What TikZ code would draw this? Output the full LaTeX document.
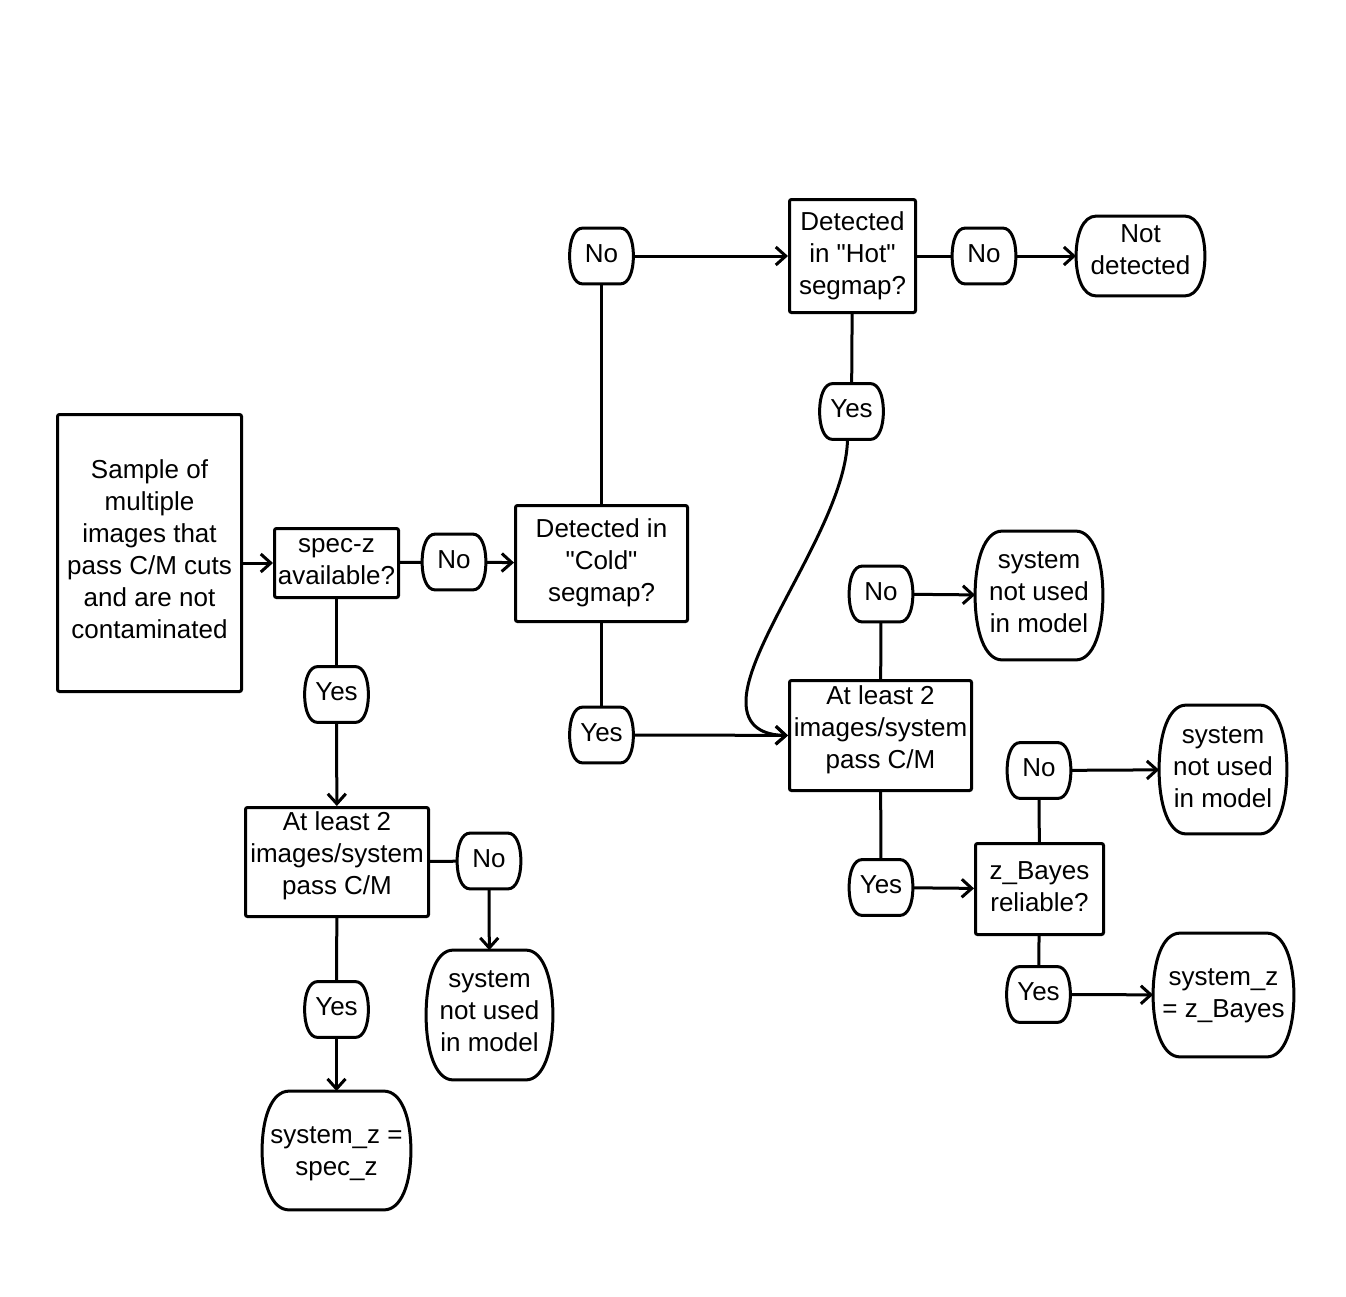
\documentclass[tikz,border=0pt]{standalone}
\usepackage{fontspec}
\setmainfont{Liberation Sans}[Ligatures=TeXOff]
\usetikzlibrary{arrows.meta,calc}
\newcommand{\tx}[2]{\raisebox{#1}[\height][\depth]{\begin{tabular}{@{}c@{}}#2\end{tabular}}}
\begin{document}
\begin{tikzpicture}[x=0.5pt,y=-0.5pt,
  base/.style={font=\fontsize{13pt}{16pt}\selectfont, align=center, inner sep=0pt},
  box/.style={base, draw, line width=1.5pt, rounded corners=1pt},
  term/.style={base},
  pill/.style={term, minimum width=31.5pt, minimum height=27.5pt},
  ln/.style={line width=1.5pt},
  arr/.style={line width=1.5pt, -{Straight Barb[length=5pt,width=9pt]}},
  outline/.style={line width=1.5pt}]
\useasboundingbox (0,0) rectangle (1346,1297);
% nodes
\node[box, minimum width=92pt, minimum height=138.5pt] (sample) at (149.5,553) {\tx{0.5pt}{Sample of\\multiple\\images that\\pass C/M cuts\\and are not\\contaminated}};
\node[box, minimum width=62pt, minimum height=34.5pt] (specz) at (336.5,563) {\tx{0.5pt}{spec-z\\available?}};
\node[pill] (no1) at (454,562) {\tx{0pt}{No}};
\node[box, minimum width=86pt, minimum height=58pt] (cold) at (601.5,563.5) {\tx{0pt}{Detected in\\"Cold"\\segmap?}};
\node[pill] (notop) at (601.5,256) {\tx{0pt}{No}};
\node[box, minimum width=63pt, minimum height=56.5pt] (hot) at (852.5,256) {\tx{0pt}{Detected\\in "Hot"\\segmap?}};
\node[pill] (no3) at (984,256) {\tx{0pt}{No}};
\node[term, minimum width=64pt, minimum height=39.5pt] (notdet) at (1140.5,256) {\tx{2pt}{Not\\detected}};
\node[pill] (yeshot) at (851.5,411.5) {\tx{0pt}{Yes}};
\node[pill] (yesspec) at (336.5,694.5) {\tx{0pt}{Yes}};
\node[pill] (yescold) at (601.5,735) {\tx{0pt}{Yes}};
\node[box, minimum width=91pt, minimum height=55pt] (rat) at (880.5,735.5) {\tx{2.75pt}{At least 2\\images/system\\pass C/M}};
\node[pill] (norat) at (881,594) {\tx{0pt}{No}};
\node[term, minimum width=63.5pt, minimum height=64pt] (sysnot1) at (1039,595.5) {\tx{0.75pt}{system\\not used\\in model}};
\node[pill] (yesrat) at (881,887.5) {\tx{0pt}{Yes}};
\node[box, minimum width=64pt, minimum height=45.5pt] (zb) at (1039.5,889) {\tx{0pt}{z\_Bayes\\reliable?}};
\node[pill] (nozb) at (1039,770.5) {\tx{0pt}{No}};
\node[term, minimum width=63.5pt, minimum height=64pt] (sysnot2) at (1223,769.5) {\tx{0pt}{system\\not used\\in model}};
\node[pill] (yeszb) at (1038.5,994.5) {\tx{0pt}{Yes}};
\node[term, minimum width=70pt, minimum height=61.5pt] (syszb) at (1223.5,995) {\tx{0pt}{system\_z\\= z\_Bayes}};
\node[box, minimum width=91.5pt, minimum height=54.5pt] (lat) at (337,862) {\tx{3pt}{At least 2\\images/system\\pass C/M}};
\node[pill] (nolat) at (489,861) {\tx{0pt}{No}};
\node[term, minimum width=63pt, minimum height=64.5pt] (sysnot3) at (489.5,1015) {\tx{1pt}{system\\not used\\in model}};
\node[pill] (yeslat) at (336.5,1009.5) {\tx{0pt}{Yes}};
\node[term, minimum width=74pt, minimum height=59pt] (sysspec) at (336.5,1150.5) {\tx{-1.25pt}{system\_z =\\spec\_z}};
% rounded outlines
\foreach \n/\r in {no1/6.5,notop/6.5,no3/6.5,yeshot/6.5,yesspec/6.5,yescold/6.5,norat/6.5,yesrat/6.5,nozb/6.5,yeszb/6.5,nolat/6.5,yeslat/6.5,notdet/10,sysnot1/13.5,sysnot2/13.5,sysnot3/13.5,syszb/13.5,sysspec/13.5}{
  \draw[outline] ($(\n.north west)+(\r pt,0)$) -- ($(\n.north east)+(-\r pt,0)$)
    .. controls ($(\n.north east)+(-0.35*\r pt,0)$) and ($(\n.north east)!0.45!(\n.east)$) .. (\n.east)
    .. controls ($(\n.south east)!0.45!(\n.east)$) and ($(\n.south east)+(-0.35*\r pt,0)$) .. ($(\n.south east)+(-\r pt,0)$)
    -- ($(\n.south west)+(\r pt,0)$)
    .. controls ($(\n.south west)+(0.35*\r pt,0)$) and ($(\n.south west)!0.45!(\n.west)$) .. (\n.west)
    .. controls ($(\n.north west)!0.45!(\n.west)$) and ($(\n.north west)+(0.35*\r pt,0)$) .. cycle;
}
% connectors
\draw[arr] (sample.east |- specz.west) -- (specz.west);
\draw[ln] (specz) -- (no1);
\draw[arr] (no1) -- (cold);
\draw[ln] (cold) -- (notop);
\draw[arr] (notop) -- (hot);
\draw[ln] (hot) -- (no3);
\draw[arr] (no3) -- (notdet);
\draw[ln] (hot) -- (yeshot);
\draw[arr] ([xshift=-2pt]yeshot.south) .. controls (846,520) and (748,640) .. (746,700) .. controls (745,728) and (765,735) .. (rat.west);
\draw[ln] (cold) -- (yescold);
\draw[arr] (yescold) -- (rat);
\draw[ln] (rat) -- (norat);
\draw[arr] (norat) -- (sysnot1);
\draw[ln] (rat) -- (yesrat);
\draw[arr] (yesrat) -- (zb);
\draw[ln] (zb) -- (nozb);
\draw[arr] (nozb) -- (sysnot2);
\draw[ln] (zb) -- (yeszb);
\draw[arr] (yeszb) -- (syszb);
\draw[ln] (specz) -- (yesspec);
\draw[arr] (yesspec) -- (lat);
\draw[ln] (lat) -- (nolat);
\draw[arr] (nolat) -- (sysnot3);
\draw[ln] (lat) -- (yeslat);
\draw[arr] (yeslat) -- (sysspec);
\end{tikzpicture}
\end{document}
